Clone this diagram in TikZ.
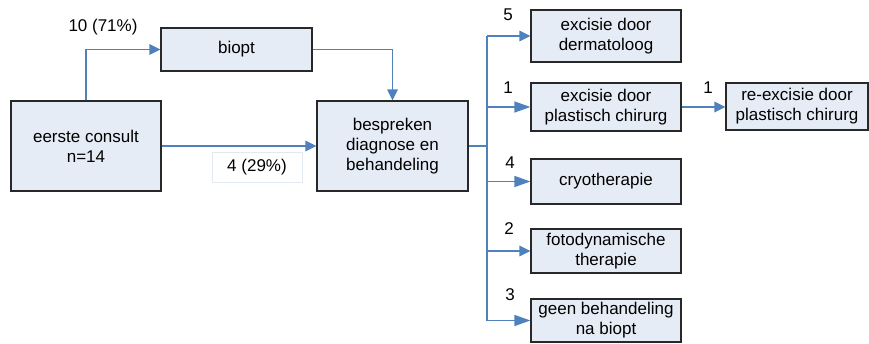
\documentclass[tikz,border=0pt]{standalone}
\usepackage{fontspec}
\setmainfont{Liberation Sans}
\usetikzlibrary{arrows.meta}
\definecolor{boxfill}{RGB}{230,236,246}
\definecolor{boxline}{RGB}{40,40,40}
\definecolor{flow}{RGB}{79,129,189}
\definecolor{labline}{RGB}{226,233,242}
\begin{document}
\begin{tikzpicture}[x=1pt,y=-1pt,
  font=\fontsize{17}{20}\selectfont,
  stepbox/.style={draw=boxline,line width=1.2pt,fill=boxfill,align=center,
    inner sep=0pt,minimum width=150pt},
  flowline/.style={draw=flow,line width=1.3pt},
  flowarrow/.style={flowline,-{Triangle[length=11pt,width=10.5pt]}},
  longarrow/.style={flowline,-{Triangle[length=16pt,width=11pt]}},
  count/.style={inner sep=0pt}]
\useasboundingbox (0,0) rectangle (869,343);

% boxes
\node[stepbox,minimum height=90pt] (consult) at (86,146) {eerste consult\\n=14};
\node[stepbox,minimum width=151pt,minimum height=43pt] (biopt) at (236.5,49.5) {biopt};
\node[stepbox,minimum width=151pt,minimum height=90pt] (bespreken) at (392.5,146) {bespreken\\diagnose en\\behandeling};
\node[stepbox,minimum height=52pt] (derm) at (606,36) {excisie door\\dermatoloog};
\node[stepbox,minimum height=48pt] (plast) at (606,107) {excisie door\\plastisch chirurg};
\node[stepbox,minimum width=142pt,minimum height=47pt] (reexc) at (797,106.5) {re-excisie door\\plastisch chirurg};
\node[stepbox,minimum height=45pt] (cryo) at (606,181.5) {cryotherapie};
\node[stepbox,minimum height=44pt] (foto) at (606,251) {fotodynamische\\therapie};
\node[stepbox,minimum height=43pt] (geen) at (606,320.5) {geen behandeling\\na biopt};

% connectors
\draw[flowarrow] (consult.north) |- (biopt.west);
\draw[flowarrow] (biopt.east) -| (bespreken.north);
\draw[flowarrow] (consult.east) -- (bespreken.west);

\coordinate (trunk) at (487,146);
\coordinate (trunktop) at (487,36);
\coordinate (trunkbot) at (487,321);
\draw[flowline] (bespreken.east) -- (trunk);
\draw[flowline] (trunktop) -- (trunkbot);
\foreach \b in {derm,foto}
  \draw[flowarrow] (trunk |- \b.west) -- (\b.west);
\foreach \b in {plast,cryo,geen}
  \draw[longarrow] (trunk |- \b.west) -- (\b.west);
\draw[flowarrow] (plast.east) -- (plast.east -| reexc.west);

% counts
\node[count] (nbiopt) at (103,27) {10 (71\%)};
\node[draw=labline,line width=0.8pt,fill=white,minimum width=90pt,minimum height=30pt,inner sep=0pt] (ndirect) at (257,167) {4 (29\%)};
\node[count] (nderm) at (508,15) {5};
\node[count] (nplast) at (508,88) {1};
\node[count] (ncryo) at (510,163) {4};
\node[count] (nfoto) at (509,229) {2};
\node[count] (ngeen) at (510,295) {3};
\node[count] (nreexc) at (708,88) {1};
\end{tikzpicture}
\end{document}
